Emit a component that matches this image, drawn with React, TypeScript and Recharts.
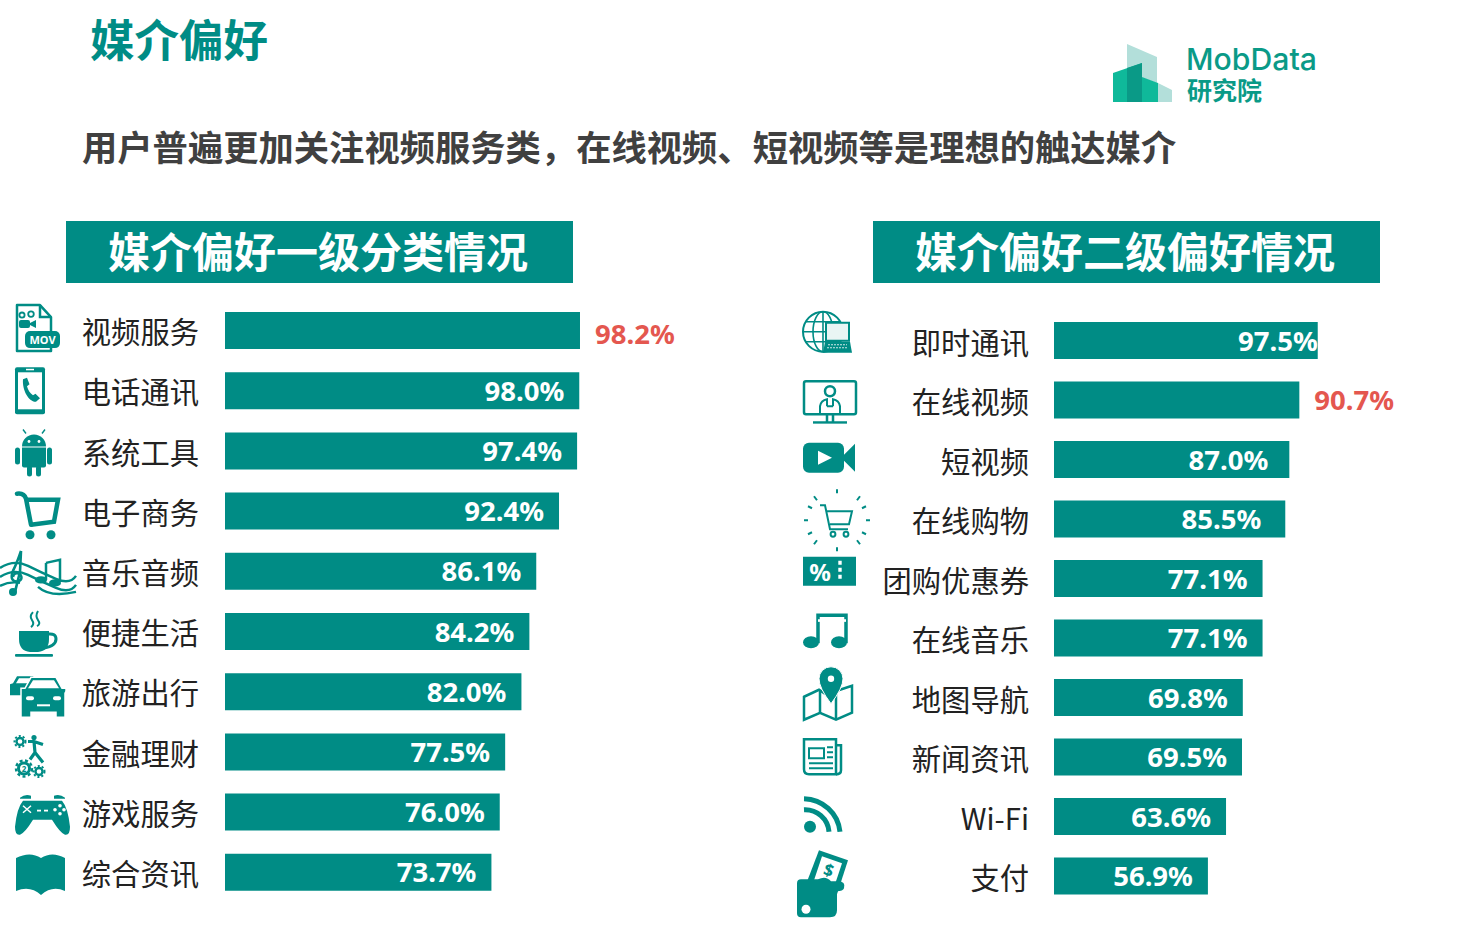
import React from 'react';
import { BarChart, Bar, XAxis, YAxis, LabelList } from 'recharts';

const TEAL = '#008c85';
const RED = '#e4574f';
const CJK = '"Noto Sans CJK SC", sans-serif';

const leftCategories = ['视频服务', '电话通讯', '系统工具', '电子商务', '音乐音频', '便捷生活', '旅游出行', '金融理财', '游戏服务', '综合资讯'];
const leftValues = [98.2, 98.0, 97.4, 92.4, 86.1, 84.2, 82.0, 77.5, 76.0, 73.7];
const rightCategories = ['即时通讯', '在线视频', '短视频', '在线购物', '团购优惠券', '在线音乐', '地图导航', '新闻资讯', 'Wi-Fi', '支付'];
const rightValues = [97.5, 90.7, 87.0, 85.5, 77.1, 77.1, 69.8, 69.5, 63.6, 56.9];

const toRows = (names: string[], values: number[]) => names.map((name, i) => ({ name, value: values[i] }));

// a few labels in the original don't sit at the usual distance from the bar end
const labelGaps: Record<string, number> = { 即时通讯: 0, 短视频: 21, 在线购物: 24 };
const labelShifts: Record<string, number> = { 视频服务: 3 };

// icons are drawn around the row centre (y = 0), x is relative to the chart's left edge
const line = { fill: 'none', stroke: TEAL, strokeWidth: 2.5 };
const white = '#fff';

const icons: Record<string, React.ReactNode> = {
  视频服务: (
    <g>
      <path d="M17,-25 H40 L51,-13 V21 H17 Z" {...line} strokeLinejoin="round" />
      <path d="M40,-25 V-13 H51" {...line} />
      <circle cx="22" cy="-15" r="2.6" {...line} strokeWidth={1.8} />
      <circle cx="31" cy="-16" r="2.8" {...line} strokeWidth={1.8} />
      <rect x="19" y="-10" width="11" height="8" rx="2" fill={TEAL} />
      <path d="M30,-7 L36,-10 V-2 L30,-5 Z" fill={TEAL} />
      <rect x="25" y="1" width="35" height="17" rx="5" fill={TEAL} />
      <text x="42.5" y="13.5" fill={white} fontSize={11} fontWeight={700} textAnchor="middle" fontFamily="Noto Sans">MOV</text>
    </g>
  ),
  电话通讯: (
    <g>
      <rect x="15" y="-23" width="30" height="47" rx="2" fill={TEAL} />
      <rect x="18" y="-18" width="24" height="37" fill={white} />
      <rect x="26" y="-21.5" width="8" height="1.5" fill={white} />
      <path d="M23,-11 L27,-12.5 L29.5,-6 L27,-4 C28,0 30,3 33,5 L35.5,3.5 L40,8 L36,11.5 C29,12 22,0 23,-11 Z" fill={TEAL} />
    </g>
  ),
  系统工具: (
    <g>
      <path d="M22,-4 A12,12 0 0 1 46,-4 Z" fill={TEAL} />
      <path d="M26,-17 L23,-21 M42,-17 L45,-21" stroke={TEAL} strokeWidth={1.4} />
      <circle cx="29" cy="-9" r="1.4" fill={white} />
      <circle cx="39" cy="-9" r="1.4" fill={white} />
      <path d="M22,-3 H46 V15 Q46,17 44,17 H24 Q22,17 22,15 Z" fill={TEAL} />
      <rect x="15" y="-3" width="5" height="17" rx="2.5" fill={TEAL} />
      <rect x="47" y="-3" width="5" height="17" rx="2.5" fill={TEAL} />
      <rect x="27" y="15" width="5" height="11" rx="2.5" fill={TEAL} />
      <rect x="36" y="15" width="5" height="11" rx="2.5" fill={TEAL} />
    </g>
  ),
  电子商务: (
    <g>
      <path d="M17,-17 Q24,-18 26,-12 L31,14" {...line} strokeWidth={4.5} strokeLinecap="round" />
      <path d="M26,-11 H58 L54,11 L31,14" {...line} strokeWidth={4.5} />
      <circle cx="30" cy="24" r="4.5" fill={TEAL} />
      <circle cx="51" cy="24" r="4.5" fill={TEAL} />
    </g>
  ),
  音乐音频: (
    <g>
      <path d="M0,-3 Q14,-12 28,-5 T56,8 T76,5 M0,6 Q14,-3 28,4 T56,17 T76,14 M0,15 Q10,10 20,12 M38,16 Q50,27 76,21" {...line} strokeWidth={2.4} />
      <path d="M21,-20 Q17,-8 13,0 Q9,10 17,11 Q24,9 20,3 Q14,1 13,6 M21,-20 L20,1 L15,21" {...line} strokeWidth={2.6} />
      <circle cx="13" cy="21" r="4" fill={TEAL} />
      <path d="M46,-8 L60,-11 V11" {...line} />
      <path d="M46,-8 V9" {...line} />
      <ellipse cx="41" cy="9" rx="6" ry="3.6" fill={TEAL} />
      <ellipse cx="55" cy="12" rx="6" ry="3.6" fill={TEAL} />
    </g>
  ),
  便捷生活: (
    <g>
      <path d="M19,0 H49 V8 Q49,20 38,21 H30 Q19,20 19,8 Z" fill={TEAL} />
      <path d="M48,3 Q56,2 56,8 Q56,15 44,17" {...line} strokeWidth={3} />
      <rect x="15" y="23" width="38" height="2.6" rx="1" fill={TEAL} />
      <path d="M33,-19 Q29,-15 32,-11 T31,-4 M38,-20 Q35,-15 38,-11 T37,-5" {...line} strokeWidth={2} />
    </g>
  ),
  旅游出行: (
    <g>
      <path d="M10,-7 L13,-8 L17,-15 H33 L38,-8 H40 V-5 H28 L21,4 H10 Z" fill={TEAL} />
      <path d="M16,-8 L19,-13 H31 L34,-8 Z" fill={white} />
      <path d="M21,-3 H25 L31,-14 H56 L62,-3 H66 V0 L65,2 V26 H56 V21 H31 V26 H21 V2 Z" fill={TEAL} stroke={white} strokeWidth={1.5} />
      <path d="M28,-3 L33,-11 H54 L59,-3 Z" fill={white} />
      <rect x="26" y="5" width="8" height="4" rx="2" fill={white} />
      <rect x="53" y="5" width="8" height="4" rx="2" fill={white} />
      <rect x="37" y="13" width="13" height="2" fill={white} />
    </g>
  ),
  金融理财: (
    <g>
      <circle cx="20" cy="-10" r="3.5" {...line} strokeWidth={2.4} />
      <circle cx="20" cy="-10" r="5.5" fill="none" stroke={TEAL} strokeWidth={2} strokeDasharray="2 2" />
      <circle cx="24" cy="17" r="5.5" {...line} strokeWidth={3} />
      <circle cx="24" cy="17" r="8" fill="none" stroke={TEAL} strokeWidth={2.4} strokeDasharray="3 2.5" />
      <text x="24" y="20" fontSize={8} fontWeight={700} fill={TEAL} textAnchor="middle" fontFamily="Noto Sans">2</text>
      <circle cx="39" cy="20" r="3.5" {...line} strokeWidth={2.4} />
      <circle cx="39" cy="20" r="5.5" fill="none" stroke={TEAL} strokeWidth={2} strokeDasharray="2 2" />
      <circle cx="34" cy="-14" r="2.6" fill={TEAL} />
      <path d="M28,-10 L34,-10 L43,-7 M34,-10 L35,1 L30,8 M35,1 L43,11" {...line} strokeWidth={3.2} />
    </g>
  ),
  游戏服务: (
    <g>
      <path d="M23,-11 H62 Q68,-4 70,15 Q70,24 65,23 Q60,21 52,8 H33 Q25,21 20,23 Q15,24 15,15 Q17,-4 23,-11 Z" fill={TEAL} />
      <path d="M20,-14 Q25,-18 31,-16 V-13 H20 Z M54,-13 V-16 Q60,-18 65,-14 V-13 Z" fill={TEAL} />
      <path d="M23,-6 L31,1 M31,-6 L23,1" stroke={white} strokeWidth={1.5} />
      <rect x="37" y="-2" width="4" height="1.8" fill={white} />
      <rect x="44" y="-2" width="4" height="1.8" fill={white} />
      <circle cx="60" cy="-6" r="1.8" fill={white} />
      <circle cx="55" cy="-2" r="1.8" fill={white} />
      <circle cx="64" cy="-2" r="1.8" fill={white} />
      <circle cx="60" cy="2" r="1.8" fill={white} />
    </g>
  ),
  综合资讯: (
    <path d="M16,-14 Q30,-21 41,-14 Q52,-21 65,-14 V19 Q52,13 41,23 Q30,13 16,19 Z" fill={TEAL} />
  ),
  即时通讯: (
    <g>
      <circle cx="33" cy="-9" r="20" {...line} strokeWidth={2} />
      <ellipse cx="33" cy="-9" rx="10" ry="20" {...line} strokeWidth={1.6} />
      <path d="M33,-29 V11 M13,-9 H53 M16,-19 H50 M16,1 H50" {...line} strokeWidth={1.6} />
      <rect x="36" y="-18" width="23" height="18" fill="#e9f5f4" stroke={TEAL} strokeWidth={2} />
      <path d="M35,1 H60 L62,12 H33 Z" fill={TEAL} />
      <path d="M38,4 H57 M37,7 H58" stroke={white} strokeWidth={0.8} strokeDasharray="2 1" />
    </g>
  ),
  在线视频: (
    <g>
      <rect x="14" y="-19" width="52" height="33" rx="2" {...line} />
      <circle cx="40" cy="-9" r="5" {...line} />
      <path d="M30,13 V6 Q31,0 37,-1 V6 M50,13 V6 Q49,0 43,-1 V6 M37,6 H43" {...line} strokeWidth={2} />
      <path d="M37,14 V22 M43,14 V22" {...line} />
      <rect x="23" y="21" width="34" height="2.4" fill={TEAL} />
    </g>
  ),
  短视频: (
    <g>
      <rect x="13" y="-17" width="41" height="30" rx="6" fill={TEAL} />
      <path d="M53,-4 L65,-16 V12 L53,0 Z" fill={TEAL} />
      <path d="M28,-9 L42,-2 L28,5 Z" fill={white} />
    </g>
  ),
  在线购物: (
    <g>
      <path d="M30,-14 H35 L40,10 H58 M37,-8 H62 L59,5 H40" {...line} strokeWidth={2} />
      <circle cx="43" cy="15" r="2.4" {...line} strokeWidth={2} />
      <circle cx="56" cy="15" r="2.4" {...line} strokeWidth={2} />
      <path d="M47,-31 V-27 M47,27 V31 M14,0 H18 M76,0 H80 M24,-24 L27,-20 M70,-24 L67,-20 M24,24 L27,20 M70,24 L67,20 M18,-14 L22,-12 M76,-14 L72,-12 M18,14 L22,12 M76,14 L72,12" transform="translate(0,1)" {...line} strokeWidth={2} />
    </g>
  ),
  团购优惠券: (
    <g>
      <rect x="13" y="-22" width="53" height="29" fill={TEAL} />
      <text x="30" y="2" fill={white} fontSize={24} fontWeight={700} textAnchor="middle" fontFamily="Noto Sans">%</text>
      <path d="M50,-18 V3" stroke={white} strokeWidth={3.4} strokeDasharray="4 3" />
    </g>
  ),
  在线音乐: (
    <g>
      <path d="M28,5 V-23 H56 V5" {...line} strokeWidth={3.5} />
      <rect x="28" y="-19" width="28" height="2.6" fill={white} />
      <ellipse cx="21" cy="4" rx="8" ry="6" fill={TEAL} />
      <ellipse cx="49" cy="4" rx="8" ry="6" fill={TEAL} />
    </g>
  ),
  地图导航: (
    <g>
      <path d="M14,-1 L29,-8 L38,-2 L50,-8 L62,-12 V15 L46,22 L30,15 L14,22 Z" {...line} />
      <path d="M30,-8 V15 M46,-4 V22" {...line} />
      <path d="M41,6 Q29,-10 29,-19 A12,12 0 0 1 53,-19 Q53,-10 41,6 Z" fill={TEAL} stroke={white} strokeWidth={1} />
      <circle cx="41" cy="-19" r="3.2" fill={white} />
    </g>
  ),
  新闻资讯: (
    <g>
      <path d="M14,-18 H46 V17 H19 Q14,17 14,12 Z" {...line} />
      <path d="M46,-12 H51 V13 Q51,17 46,17" {...line} />
      <rect x="19" y="-9" width="15" height="10" {...line} strokeWidth={2} />
      <path d="M37,-10 H43 M37,-5 H43 M37,0 H43 M19,6 H43 M19,11 H43" {...line} strokeWidth={2} />
    </g>
  ),
  'Wi-Fi': (
    <g>
      <circle cx="20" cy="10" r="6" fill={TEAL} />
      <path d="M14,-7 A24,24 0 0 1 39,15" {...line} strokeWidth={5} />
      <path d="M14,-18 A37,37 0 0 1 50,15" {...line} strokeWidth={5} />
    </g>
  ),
  支付: (
    <g>
      <path d="M29,-26 L58,-16 L47,18 L16,8 Z" fill={TEAL} />
      <path d="M32,-20 L52,-13 L44,11 L24,4 Z" fill={white} />
      <text x="38" y="0" fill={TEAL} fontSize={17} fontWeight={700} textAnchor="middle" transform="rotate(18 38 -4)" fontFamily="Noto Sans">$</text>
      <path d="M11,3 H28 Q36,-1 41,5 H48 Q56,5 54,12 Q53,15 47,15 V34 Q47,41 40,41 H11 Q7,41 7,37 V7 Q7,3 11,3 Z" fill={TEAL} />
      <circle cx="16" cy="33" r="4.5" fill={white} />
    </g>
  ),
};

function CategoryTick({ y, payload, labelX, labelDy }: any) {
  return (
    <g transform={`translate(0,${y})`}>
      {icons[payload.value]}
      <text x={labelX} y={labelDy} textAnchor="end" dominantBaseline="central" fontSize={29.3} fill="#222" fontFamily={CJK}>
        {payload.value}
      </text>
    </g>
  );
}

// the highlighted bar has its value outside in red, the rest sit inside the bar's end
function valueLabel(highlight: string, rows: { name: string }[]) {
  return ({ x, y, width, height, value, index }: any) => {
    const name = rows[index].name;
    const outside = name === highlight;
    const gap = labelGaps[name] ?? 15;
    return (
      <text
        x={outside ? x + width + 15 : x + width - gap}
        y={y + height / 2 - 0.5 + (labelShifts[name] ?? 0)}
        textAnchor={outside ? 'start' : 'end'}
        dominantBaseline="central"
        fontSize={27.5}
        fontWeight={700}
        fill={outside ? RED : '#fff'}
        fontFamily="Noto Sans"
      >
        {Number(value).toFixed(1)}%
      </text>
    );
  };
}

function MediaChart({ rows, highlight, plotX, labelX, labelDy, pxPerPercent, rowH, left, top }: any) {
  const marginTop = 20;
  const marginBottom = 30;
  return (
    <div style={{ position: 'absolute', left, top: top - marginTop }}>
      <BarChart
        layout="vertical"
        width={plotX + pxPerPercent * 100 + 90}
        height={rowH * rows.length + marginTop + marginBottom}
        data={rows}
        margin={{ top: marginTop, right: 90, bottom: marginBottom, left: 0 }}
      >
        <XAxis type="number" domain={[0, 100]} hide />
        <YAxis
          type="category"
          dataKey="name"
          width={plotX}
          interval={0}
          axisLine={false}
          tickLine={false}
          tick={<CategoryTick labelX={labelX} labelDy={labelDy} />}
        />
        <Bar dataKey="value" fill={TEAL} barSize={37} isAnimationActive={false}>
          <LabelList dataKey="value" content={valueLabel(highlight, rows)} />
        </Bar>
      </BarChart>
    </div>
  );
}

function Header({ left, text }: { left: number; text: string }) {
  return (
    <div
      style={{
        position: 'absolute', left, top: 221, width: 507, height: 62, background: TEAL, color: '#fff',
        fontSize: 42, fontWeight: 700, lineHeight: '58px', textAlign: 'center', fontFamily: CJK,
        textIndent: -3,
      }}
    >
      {text}
    </div>
  );
}

function Logo() {
  return (
    <svg style={{ position: 'absolute', left: 1100, top: 35 }} width={240} height={80}>
      <g transform="translate(-1100,-35)">
        <path d="M1127,44 L1157,57 V83 L1127,72 Z" fill="#b3dfda" />
        <path d="M1158,83 L1172,90 V102 H1158 Z" fill="#b3dfda" />
        <path d="M1113,73 L1142,63 V102 H1113 Z" fill="#0fb99a" />
        <path d="M1127,68 L1142,63 V102 H1127 Z" fill="#0a9a87" />
        <path d="M1142,77 L1158,83 V102 H1142 Z" fill="#0fb99a" />
        <text x="1186" y="70" fontSize={30} fill="#0a9a87" fontFamily="Inter" fontWeight={500} textLength={131} lengthAdjust="spacingAndGlyphs">MobData</text>
        <text x="1187" y="100" fontSize={25} fontWeight={700} fill="#0a9a87" fontFamily={CJK}>研究院</text>
      </g>
    </svg>
  );
}

export default function App() {
  return (
    <div style={{ position: 'absolute', left: 0, top: 0, width: 1482, height: 929, background: '#fff', overflow: 'hidden' }}>
      <div style={{ position: 'absolute', left: 90, top: 6, fontSize: 44.5, lineHeight: '64px', fontWeight: 700, color: TEAL, fontFamily: CJK }}>媒介偏好</div>
      <div style={{ position: 'absolute', left: 82, top: 120, fontSize: 35.3, lineHeight: '52px', fontWeight: 700, color: '#404040', fontFamily: CJK, whiteSpace: 'nowrap' }}>
        用户普遍更加关注视频服务类，在线视频、短视频等是理想的触达媒介
      </div>
      <Logo />
      <Header left={66} text="媒介偏好一级分类情况" />
      <Header left={873} text="媒介偏好二级偏好情况" />
      <MediaChart
        rows={toRows(leftCategories, leftValues)}
        highlight="视频服务"
        left={0}
        top={300}
        plotX={225}
        labelX={199}
        labelDy={0}
        pxPerPercent={3.615}
        rowH={60.2}
      />
      <MediaChart
        rows={toRows(rightCategories, rightValues)}
        highlight="在线视频"
        left={790}
        top={311}
        plotX={264}
        labelX={239}
        labelDy={0}
        pxPerPercent={2.705}
        rowH={59.5}
      />
    </div>
  );
}
